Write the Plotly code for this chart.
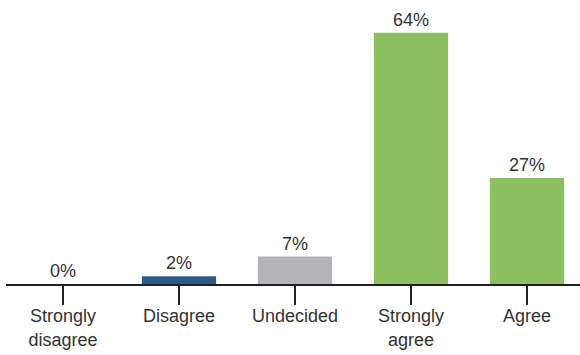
import plotly.graph_objects as go

# Survey responses, share of respondents (%)
categories = ["Strongly<br>disagree", "Disagree", "Undecided", "Strongly<br>agree", "Agree"]
values = [0, 2, 7, 64, 27]
labels = ["0%", "2%", "7%", "64%", "27%"]
colors = ["#2d5b87", "#2d5b87", "#b4b4b8", "#8cbf5f", "#8cbf5f"]

fig = go.Figure(
    go.Bar(
        x=list(range(len(categories))),
        y=values,
        text=labels,
        textposition="outside",
        textfont=dict(size=18, color="#333333"),
        marker=dict(color=colors, line=dict(width=0)),
        cliponaxis=False,
        width=0.64,
        hoverinfo="skip",
    )
)

fig.update_layout(
    width=580,
    height=355,
    margin=dict(l=6, r=0, t=10, b=71),
    paper_bgcolor="white",
    plot_bgcolor="white",
    font=dict(family="Liberation Sans, Arial, sans-serif", size=18, color="#333333"),
    showlegend=False,
    uniformtext=dict(minsize=18),
)

fig.update_xaxes(
    tickmode="array",
    tickvals=list(range(len(categories))),
    ticktext=categories,
    range=[-0.4914, 4.457],
    showline=True,
    linecolor="#222222",
    linewidth=1.5,
    ticks="outside",
    ticklen=19,
    tickwidth=1.5,
    tickcolor="#222222",
    ticklabelstandoff=-4,
    showgrid=False,
    zeroline=False,
    tickfont=dict(size=18, color="#333333"),
)

fig.update_yaxes(
    range=[0, 69.8],
    visible=False,
    showgrid=False,
    zeroline=False,
)

fig.write_html("out.html")
